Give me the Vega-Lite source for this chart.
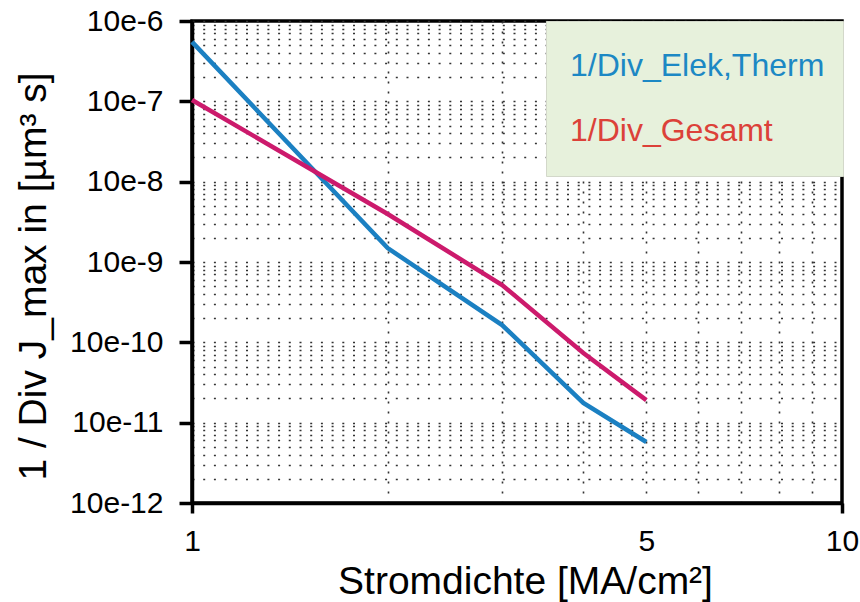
{
  "$schema": "https://vega.github.io/schema/vega-lite/v6.json",
  "width": 650,
  "height": 482,
  "autosize": {"type": "none"},
  "padding": {"left": 192, "right": 18, "top": 21, "bottom": 99},
  "background": "white",
  "config": {
    "view": {"stroke": "black", "strokeWidth": 3.5},
    "font": "Liberation Sans"
  },
  "data": {
    "values": [
      {"stromdichte": 1, "wert": 5.5e-7, "serie": "1/Div_Elek,Therm"},
      {"stromdichte": 2, "wert": 1.49e-9, "serie": "1/Div_Elek,Therm"},
      {"stromdichte": 3, "wert": 1.64e-10, "serie": "1/Div_Elek,Therm"},
      {"stromdichte": 4, "wert": 1.76e-11, "serie": "1/Div_Elek,Therm"},
      {"stromdichte": 5, "wert": 5.75e-12, "serie": "1/Div_Elek,Therm"},
      {"stromdichte": 1, "wert": 1.04e-7, "serie": "1/Div_Gesamt"},
      {"stromdichte": 2, "wert": 3.96e-9, "serie": "1/Div_Gesamt"},
      {"stromdichte": 3, "wert": 5.17e-10, "serie": "1/Div_Gesamt"},
      {"stromdichte": 4, "wert": 7.36e-11, "serie": "1/Div_Gesamt"},
      {"stromdichte": 5, "wert": 1.91e-11, "serie": "1/Div_Gesamt"}
    ]
  },
  "mark": {"type": "line", "strokeWidth": 4.5, "clip": false},
  "encoding": {
    "x": {
      "field": "stromdichte",
      "type": "quantitative",
      "scale": {"type": "log", "domain": [1, 10], "nice": false},
      "axis": {
        "title": "Stromdichte [MA/cm²]",
        "titleFontSize": 39,
        "titleFontWeight": "normal",
        "titleColor": "black",
        "titlePadding": 6,
        "titleX": 333,
        "tickValues": [1, 2, 3, 4, 5, 6, 7, 8, 9, 10],
        "labelExpr": "datum.value == 1 || datum.value == 5 || datum.value == 10 ? format(datum.value, 'd') : ''",
        "labelFontSize": 30,
        "labelColor": "black",
        "labelPadding": 13,
        "labelFlush": false,
        "labelOverlap": false,
        "tickSize": 10,
        "tickWidth": 3.5,
        "tickColor": "black",
        "tickOpacity": {"condition": {"test": "datum.value == 1 || datum.value == 10", "value": 1}, "value": 0},
        "domainColor": "black",
        "domainWidth": 3.5,
        "grid": true,
        "gridColor": "#333333",
        "gridWidth": 1.6,
        "gridDash": [2, 8],
        "gridOpacity": {"condition": {"test": "datum.value == 1 || datum.value == 10", "value": 0}, "value": 1}
      }
    },
    "y": {
      "field": "wert",
      "type": "quantitative",
      "scale": {"type": "log", "domain": [1e-12, 1e-6], "nice": false},
      "axis": {
        "title": "1 / Div J_max in [µm³ s]",
        "titleFontSize": 39,
        "titleFontWeight": "normal",
        "titleColor": "black",
        "titlePadding": 16,
        "titleY": 255,
        "tickValues": [1e-12, 2e-12, 3e-12, 4e-12, 5e-12, 6e-12, 7e-12, 8e-12, 9e-12,
                       1e-11, 2e-11, 3e-11, 4e-11, 5e-11, 6e-11, 7e-11, 8e-11, 9e-11,
                       1e-10, 2e-10, 3e-10, 4e-10, 5e-10, 6e-10, 7e-10, 8e-10, 9e-10,
                       1e-9, 2e-9, 3e-9, 4e-9, 5e-9, 6e-9, 7e-9, 8e-9, 9e-9,
                       1e-8, 2e-8, 3e-8, 4e-8, 5e-8, 6e-8, 7e-8, 8e-8, 9e-8,
                       1e-7, 2e-7, 3e-7, 4e-7, 5e-7, 6e-7, 7e-7, 8e-7, 9e-7, 1e-6],
        "labelExpr": "abs(log(datum.value)/LN10 - round(log(datum.value)/LN10)) < 0.001 ? '10e' + round(log(datum.value)/LN10) : ''",
        "labelFontSize": 30,
        "labelColor": "black",
        "labelPadding": 16,
        "labelFlush": false,
        "labelOverlap": false,
        "tickSize": 13,
        "tickWidth": 3.5,
        "tickColor": "black",
        "tickOpacity": {"condition": {"test": "abs(log(datum.value)/LN10 - round(log(datum.value)/LN10)) < 0.001", "value": 1}, "value": 0},
        "domainColor": "black",
        "domainWidth": 3.5,
        "grid": true,
        "gridColor": "#333333",
        "gridWidth": 1.6,
        "gridDash": [2, 8.7]
      }
    },
    "color": {
      "field": "serie",
      "type": "nominal",
      "scale": {"domain": ["1/Div_Elek,Therm", "1/Div_Gesamt"], "range": ["#1b80c2", "#cc1a6c"]},
      "legend": {
        "title": null,
        "orient": "none",
        "legendX": 354,
        "legendY": 0,
        "fillColor": "#e7f1dc",
        "strokeColor": "#d3d8ca",
        "padding": 18,
        "symbolType": "square",
        "symbolSize": 2916,
        "symbolOpacity": 0,
        "symbolStrokeWidth": 0,
        "labelOffset": -48,
        "labelFontSize": 32,
        "labelLimit": 400,
        "rowPadding": 11,
        "encode": {
          "labels": {
            "update": {
              "fill": {"signal": "datum.label === '1/Div_Gesamt' ? '#dc4139' : '#1c88c4'"}
            }
          }
        }
      }
    }
  }
}
